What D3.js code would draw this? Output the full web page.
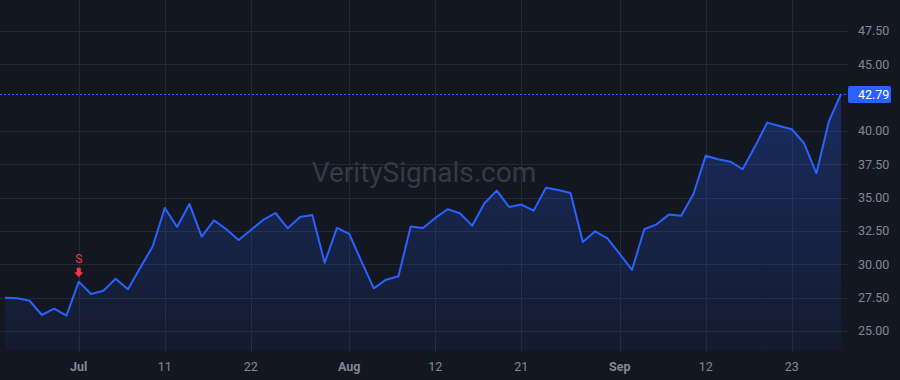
<!DOCTYPE html>
<html>
<head>
<meta charset="utf-8">
<script src="https://cdn.jsdelivr.net/npm/d3@7/dist/d3.min.js"></script>
<style>
    html, body { margin: 0; padding: 0; background: #131722; }
    svg { display: block; font-family: Roboto, "Liberation Sans", sans-serif; }
</style>
</head>
<body>
<svg id="chart" width="900" height="380"></svg>
<script>
'use strict';

// trading days, Jun 21 - Sep 27 2024
var dates = [
    "2024-06-21", "2024-06-24", "2024-06-25", "2024-06-26", "2024-06-27", "2024-06-28",
    "2024-07-01", "2024-07-02", "2024-07-03", "2024-07-05", "2024-07-08", "2024-07-09",
    "2024-07-10", "2024-07-11", "2024-07-12", "2024-07-15", "2024-07-16", "2024-07-17",
    "2024-07-18", "2024-07-19", "2024-07-22", "2024-07-23", "2024-07-24", "2024-07-25",
    "2024-07-26", "2024-07-29", "2024-07-30", "2024-07-31",
    "2024-08-01", "2024-08-02", "2024-08-05", "2024-08-06", "2024-08-07", "2024-08-08",
    "2024-08-09", "2024-08-12", "2024-08-13", "2024-08-14", "2024-08-15", "2024-08-16",
    "2024-08-19", "2024-08-20", "2024-08-21", "2024-08-22", "2024-08-23", "2024-08-26",
    "2024-08-27", "2024-08-28", "2024-08-29", "2024-08-30",
    "2024-09-03", "2024-09-04", "2024-09-05", "2024-09-06", "2024-09-09", "2024-09-10",
    "2024-09-11", "2024-09-12", "2024-09-13", "2024-09-16", "2024-09-17", "2024-09-18",
    "2024-09-19", "2024-09-20", "2024-09-23", "2024-09-24", "2024-09-25", "2024-09-26",
    "2024-09-27"
];

var closes = [
    27.50, 27.45, 27.27, 26.20, 26.67, 26.15,
    28.70, 27.78, 28.02, 28.92, 28.13, 29.75,
    31.32, 34.23, 32.80, 34.53, 32.08, 33.30,
    32.63, 31.83, 32.58, 33.33, 33.85, 32.70,
    33.55, 33.70, 30.12, 32.73,
    32.28, 30.20, 28.20, 28.85, 29.10, 32.83,
    32.73, 33.48, 34.13, 33.83, 32.90, 34.58,
    35.53, 34.30, 34.48, 34.03, 35.75, 35.58,
    35.35, 31.68, 32.48, 31.95,
    30.78, 29.58, 32.63, 33.00, 33.73, 33.65,
    35.28, 38.15, 37.88, 37.70, 37.13, 38.83,
    40.63, 40.38, 40.13, 39.08, 36.83, 40.68,
    42.79
];

var xTickDates = ["2024-07-01", "2024-07-11", "2024-07-22", "2024-08-01", "2024-08-12",
    "2024-08-21", "2024-09-03", "2024-09-12", "2024-09-23"];
var xTickLabels = ["Jul", "11", "22", "Aug", "12", "21", "Sep", "12", "23"];
var xTickMonth = [true, false, false, true, false, false, true, false, false];

// 42.50 is hidden behind the last-price label
var yTickValues = [25, 27.5, 30, 32.5, 35, 37.5, 40, 45, 47.5];

var signalDates = ["2024-07-01"];
var signalLabels = ["S"];

var watermark = "VeritySignals.com";

function drawChart() {
    var svg = d3.select("#chart");
    var plotRight = 848, plotBottom = 352;

    var x = d3.scaleLinear().domain([0, dates.length - 1]).range([5, 841]);
    var y = d3.scaleLinear().domain([25, 47.5]).range([331, 31]);

    function xOf(dateStr) {
        return x(dates.indexOf(dateStr));
    }

    svg.append("rect")
        .attr("width", 900).attr("height", 380)
        .attr("fill", "#131722");

    // grid
    var grid = svg.append("g").attr("class", "grid");
    grid.selectAll("line.h")
        .data(yTickValues)
        .enter().append("line")
        .attr("class", "h")
        .attr("x1", 0).attr("x2", plotRight)
        .attr("y1", function (d) { return Math.round(y(d)) + 0.5; })
        .attr("y2", function (d) { return Math.round(y(d)) + 0.5; })
        .attr("stroke", "#242833");
    grid.selectAll("line.v")
        .data(xTickDates)
        .enter().append("line")
        .attr("class", "v")
        .attr("y1", 0).attr("y2", plotBottom)
        .attr("x1", function (d) { return Math.round(xOf(d)) + 0.5; })
        .attr("x2", function (d) { return Math.round(xOf(d)) + 0.5; })
        .attr("stroke", "#242833");

    // watermark
    svg.append("text")
        .attr("x", 424).attr("y", 182)
        .attr("text-anchor", "middle")
        .attr("font-size", "28px")
        .attr("fill", "#363a45")
        .text(watermark);

    // area + line
    var defs = svg.append("defs");
    var grad = defs.append("linearGradient")
        .attr("id", "areaFill")
        .attr("x1", 0).attr("y1", 0).attr("x2", 0).attr("y2", 1);
    grad.append("stop").attr("offset", "0%").attr("stop-color", "#2962ff").attr("stop-opacity", 0.28);
    grad.append("stop").attr("offset", "100%").attr("stop-color", "#2962ff").attr("stop-opacity", 0.06);

    var area = d3.area()
        .x(function (d, i) { return x(i); })
        .y0(plotBottom - 2)
        .y1(function (d) { return y(d); });

    svg.append("path")
        .datum(closes)
        .attr("d", area)
        .attr("fill", "url(#areaFill)");

    var line = d3.line()
        .x(function (d, i) { return x(i); })
        .y(function (d) { return y(d); });

    svg.append("path")
        .datum(closes)
        .attr("d", line)
        .attr("fill", "none")
        .attr("stroke", "#2962ff")
        .attr("stroke-width", 2)
        .attr("stroke-linejoin", "round");

    // last price line + label
    var last = closes[closes.length - 1];
    var lastY = Math.round(y(last)) + 0.5;
    svg.append("line")
        .attr("x1", 0).attr("x2", plotRight)
        .attr("y1", lastY).attr("y2", lastY)
        .attr("stroke", "#2962ff")
        .attr("stroke-dasharray", "2,2");

    svg.append("rect")
        .attr("x", plotRight).attr("y", lastY - 8.5)
        .attr("width", 43).attr("height", 17)
        .attr("rx", 2)
        .attr("fill", "#2962ff");
    svg.append("text")
        .attr("x", 858).attr("y", lastY)
        .attr("dy", "0.35em")
        .attr("font-size", "12.5px")
        .attr("fill", "#ffffff")
        .text(last.toFixed(2));

    // y axis labels
    svg.append("g").selectAll("text")
        .data(yTickValues)
        .enter().append("text")
        .attr("x", 858)
        .attr("y", function (d) { return y(d); })
        .attr("dy", "0.35em")
        .attr("font-size", "12.5px")
        .attr("fill", "#838793")
        .text(function (d) { return d3.format(".2f")(d); });

    // x axis labels
    svg.append("g").selectAll("text")
        .data(xTickDates)
        .enter().append("text")
        .attr("x", function (d) { return xOf(d); })
        .attr("y", 367)
        .attr("dy", "0.35em")
        .attr("text-anchor", "middle")
        .attr("font-size", "12.5px")
        .attr("font-weight", function (d, i) { return xTickMonth[i] ? "bold" : "normal"; })
        .attr("fill", "#838793")
        .text(function (d, i) { return xTickLabels[i]; });

    // signal markers
    var sig = svg.append("g").selectAll("g")
        .data(signalDates)
        .enter().append("g")
        .attr("transform", function (d) {
            var i = dates.indexOf(d);
            return "translate(" + x(i) + "," + y(closes[i]) + ")";
        });
    sig.append("text")
        .attr("y", -23)
        .attr("text-anchor", "middle")
        .attr("dy", "0.35em")
        .attr("font-size", "12px")
        .attr("fill", "#f23645")
        .text(function (d, i) { return signalLabels[i]; });
    sig.append("path")
        .attr("d", "M-2,-14 L2,-14 L2,-9.5 L4.5,-9.5 L0,-4.5 L-4.5,-9.5 L-2,-9.5 Z")
        .attr("fill", "#f23645");
}

drawChart();
</script>
</body>
</html>
